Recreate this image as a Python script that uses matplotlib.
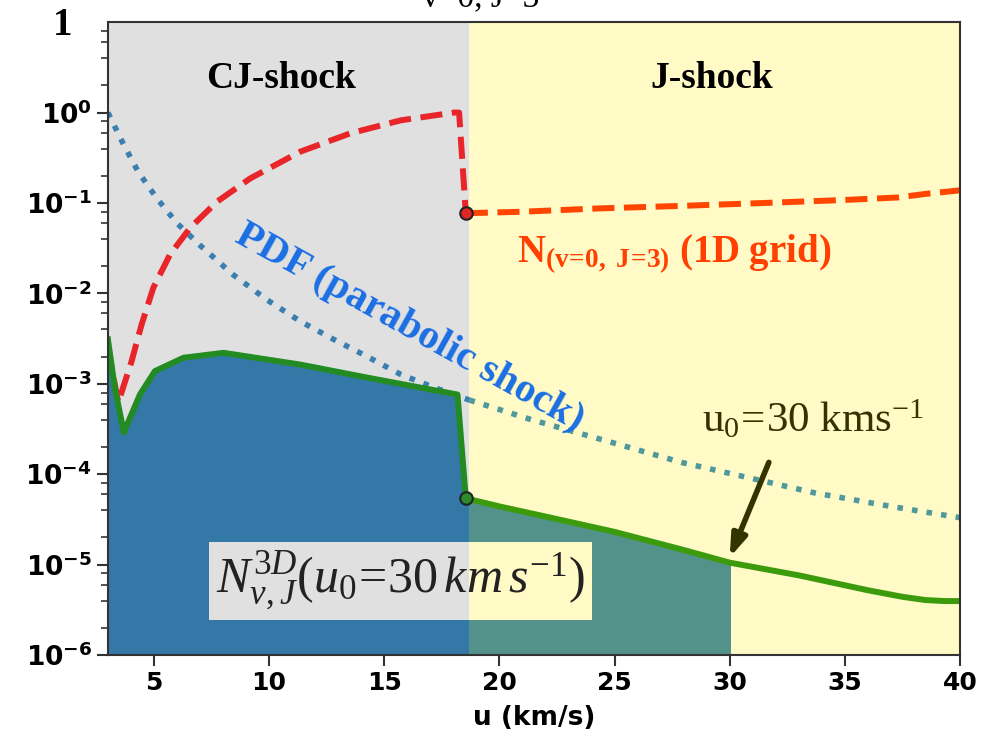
import numpy as np
import matplotlib
matplotlib.use("Agg")
import matplotlib.pyplot as plt
from matplotlib.patches import Rectangle
from matplotlib.ticker import LogLocator


#######################
#   DATA
#######################

u_shock = 18.7          # CJ / J boundary (km/s)
u_0 = 30.0              # chosen velocity

# N(v=0,J=3) 1D grid, CJ branch and J branch
u_red_cj = [3.0, 3.45, 4.03, 4.46, 4.97, 5.70, 6.57, 7.73, 9.18, 11.36, 13.53, 15.71, 18.03, 18.25, 18.54]
n_red_cj = [2.5e-3, 6.2e-4, 1.78e-3, 4.5e-3, 1.15e-2, 2.7e-2, 0.053, 0.103, 0.187, 0.37, 0.59, 0.82, 1.0, 1.0, 0.077]
u_red_j = [18.54, 21.0, 24.3, 28.0, 31.5, 35.0, 37.3, 38.5, 40.0]
n_red_j = [0.077, 0.080, 0.087, 0.093, 0.100, 0.108, 0.115, 0.126, 0.138]

# PDF (parabolic shock)
u_pdf_cj = [3.0, 3.66, 4.32, 5.12, 5.99, 7.0, 8.45, 9.9, 11.36, 12.8, 14.26, 15.71, 17.16, 18.7]
pdf_cj = [1.0, 0.455, 0.22, 0.113, 0.060, 0.034, 0.016, 8.5e-3, 4.9e-3, 3.1e-3, 2.0e-3, 1.27e-3, 9.1e-4, 6.6e-4]
u_pdf_j = [18.7, 21.4, 25.0, 27.9, 30.0, 33.7, 37.0, 40.0]
pdf_j = [6.6e-4, 4.0e-4, 2.2e-4, 1.35e-4, 1.02e-4, 6.2e-5, 4.4e-5, 3.3e-5]

# N^3D_{v,J}(u0 = 30 km/s)
u_3d = [3.0, 3.3, 3.69, 4.39, 5.04, 6.28, 8.02, 11.36, 14.26, 18.18, 18.54,
        20.0, 22.0, 25.0, 28.0, 30.0, 33.0, 36.0, 37.5, 38.5, 39.3, 40.0]
n_3d = [3.1e-3, 9e-4, 2.9e-4, 7.6e-4, 1.38e-3, 1.94e-3, 2.2e-3, 1.63e-3, 1.17e-3, 7.6e-4, 5.4e-5,
        4.4e-5, 3.4e-5, 2.3e-5, 1.45e-5, 1.05e-5, 7.6e-6, 5.2e-6, 4.4e-6, 4.05e-6, 3.95e-6, 3.95e-6]

xticks = [5, 10, 15, 20, 25, 30, 35, 40]
yticks = [1e-6, 1e-5, 1e-4, 1e-3, 1e-2, 1e-1, 1e0]
ytick_labels = [r'$\mathbf{10^{-6}}$', r'$\mathbf{10^{-5}}$', r'$\mathbf{10^{-4}}$',
                r'$\mathbf{10^{-3}}$', r'$\mathbf{10^{-2}}$', r'$\mathbf{10^{-1}}$',
                r'$\mathbf{10^{0}}$']


#######################
#   STYLE
#######################

plt.rcParams['mathtext.rm'] = 'Liberation Serif'
plt.rcParams['mathtext.it'] = 'Liberation Serif:italic'
plt.rcParams['mathtext.bf'] = 'Liberation Serif:bold'

serif = 'Liberation Serif'
gray_bg = '#e0e0e0'
yellow_bg = '#fffac6'


#######################
#   PLOT
#######################

fig = plt.figure(figsize=(9.81, 7.39), dpi=100)
ax = fig.add_axes([0.110, 0.1137, 0.8686, 0.8563])

ax.axvspan(3, u_shock, color=gray_bg, zorder=0, lw=0)
ax.axvspan(u_shock, 40, color=yellow_bg, zorder=0, lw=0)

# filled area under N3D: blue on the CJ side, teal on the J side up to u0
f1 = ax.fill_between(u_3d, n_3d, 1e-6, color='#3478a8', lw=0, zorder=1)
f1.set_clip_path(Rectangle((3, 1e-6), u_shock - 3, 10, transform=ax.transData))
f2 = ax.fill_between(u_3d, n_3d, 1e-6, color='#53928a', lw=0, zorder=1)
f2.set_clip_path(Rectangle((u_shock, 1e-6), u_0 - u_shock, 10, transform=ax.transData))

# PDF dotted
ax.plot(u_pdf_cj, pdf_cj, ':', color='#3a7fb0', lw=4, zorder=3)
ax.plot(u_pdf_j, pdf_j, ':', color='#4f989c', lw=4, zorder=3)

# N(v=0,J=3) dashed
ax.plot(u_red_cj, n_red_cj, '--', color='#e8262a', lw=4.3, zorder=4)
ax.plot(u_red_j, n_red_j, '--', color='#ff4500', lw=4.3, zorder=4)
ax.plot(u_red_j[0], n_red_j[0], 'o', ms=9, mfc='#e02525', mec='#222222', mew=1.5, zorder=6)

# N3D solid, darker green on the CJ side
i_s = u_3d.index(18.54)
ax.plot(u_3d[:i_s + 1], n_3d[:i_s + 1], '-', color='#228b22', lw=4.3, zorder=5)
ax.plot(u_3d[i_s:], n_3d[i_s:], '-', color='#3c9b0c', lw=4.3, zorder=5)
ax.plot(u_3d[i_s], n_3d[i_s], 'o', ms=9, mfc='#2c8c2c', mec='#222222', mew=1.5, zorder=6)

ax.set_yscale('log')
ax.set_xlim(3, 40)
ax.set_ylim(1e-6, 1e1)

ax.set_xticks(xticks)
ax.set_xticklabels([str(x) for x in xticks], fontsize=18, fontweight='bold')
ax.set_yticks(yticks)
ax.set_yticklabels(ytick_labels, fontsize=19)
ax.yaxis.set_minor_locator(LogLocator(base=10, subs=(2, 4, 6, 8), numticks=20))
ax.tick_params(axis='both', which='major', length=8, width=1.5, direction='out', color='#333333')
ax.tick_params(axis='y', which='minor', length=5, width=1.2, color='#333333')
for s in ax.spines.values():
    s.set_linewidth(1.5)
    s.set_color('#333333')
    s.set_zorder(10)
ax.set_xlabel('u (km/s)', fontsize=19, fontweight='bold', labelpad=7)

# region labels
ax.text(10.5, 2.4, 'CJ-shock', family=serif, weight='bold', fontsize=27,
        ha='center', va='center', zorder=7)
ax.text(29.2, 2.4, 'J-shock', family=serif, weight='bold', fontsize=27,
        ha='center', va='center', zorder=7)

ax.text(16.1, 4.1e-3, 'PDF (parabolic shock)', family=serif, weight='bold', fontsize=29.5,
        color='#1b6fe4', rotation=-29, rotation_mode='anchor', ha='center', va='center', zorder=7)

ax.text(20.75, 0.022, r'$\mathbf{N_{(v\!=\!0,\ J\!=\!3)}\ (1D\ grid)}$', math_fontfamily='custom',
        fontsize=28, color='#ff4000', ha='left', va='baseline', zorder=7)

ax.text(28.8, 2.9e-4, r'$\mathrm{u_0\!=\!30\ kms^{-1}}$', math_fontfamily='custom',
        fontsize=31, color='#333300', ha='left', va='baseline', zorder=7)
ax.annotate('', xy=(u_0, 1.2e-5), xytext=(31.7, 1.35e-4),
            arrowprops=dict(arrowstyle='-|>,head_length=1.3,head_width=0.45',
                            color='#333300', lw=4, shrinkA=0, shrinkB=0), zorder=7)

# N3D label box: gray over CJ part, yellow over J part
label3d = r'$N^{3D}_{v,J}(u_0\!=\!30\,km\,s^{-1})$'
t1 = ax.text(15.7, 6.6e-6, label3d, math_fontfamily='custom', fontsize=36, color='none',
             ha='center', va='center', zorder=7,
             bbox=dict(boxstyle='square,pad=0.15', fc=gray_bg, ec='none'))
ax.text(15.7, 6.6e-6, label3d, math_fontfamily='custom', fontsize=36, color='#222222',
        ha='center', va='center', zorder=8)

fig.text(0.064, 0.966, '1', family=serif, weight='bold', fontsize=28, ha='center', va='center')
fig.text(0.49, 1.003, 'v=0, J=3', family=serif, fontsize=24, ha='center', va='center')

# draw once so the box patch has its final place, then clip the yellow part to it
fig.canvas.draw()
ysp = ax.axvspan(u_shock, 40, color=yellow_bg, lw=0, zorder=7.5)
ysp.set_clip_path(t1.get_bbox_patch())

fig.savefig('out.png', dpi=100)
